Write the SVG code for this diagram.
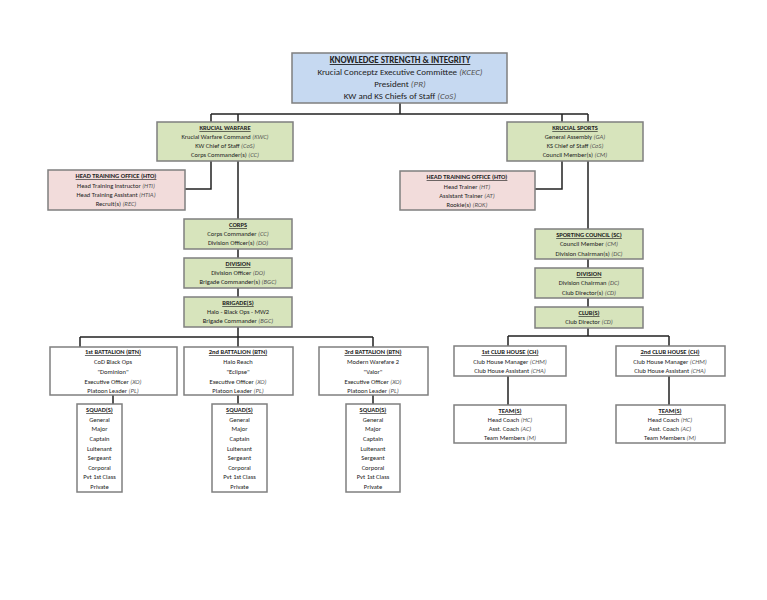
<svg xmlns="http://www.w3.org/2000/svg" width="767" height="600" viewBox="0 0 767 600">
<style>
.b{stroke:#7f7f7f;stroke-width:1.5}
.w{fill:#fff}.g{fill:#d7e4bc}.p{fill:#f2dcdb}.bl{fill:#c6d9f1}
text{font-family:Calibri,"Liberation Sans",Arial,sans-serif;font-size:6.5px;fill:#222;text-anchor:middle}
.h{font-weight:bold;text-decoration:underline}
.t{font-size:9px}
tspan.i{font-style:italic;fill:#555}
#conn path{fill:none;stroke:#222;stroke-width:1.5}
</style>
<rect width="767" height="600" fill="#fff"/>
<g id="conn">
<path d="M400 103V114M211 114H588M211 114V122M238 114V122M562 114V122M588 114V122"/>
<path d="M211 161V189H185M238 161V219M238 249V258M238 288V297M238 327V337M80 337H373M80 337V347M238 337V347M373 337V347"/>
<path d="M113 395V404M238 395V404M373 395V404"/>
<path d="M562 161V189H535M588 161V229M588 259V268M588 298V307M588 328V336M508 336H669M508 336V346M669 336V346M508 376V405M669 376V405"/>
</g>
<g id="top"><rect class="b bl" x="292" y="53" width="215" height="50"/>
<text class="t h" x="400" y="63">KNOWLEDGE STRENGTH &amp; INTEGRITY</text>
<text class="t" x="400" y="75">Krucial Conceptz Executive Committee <tspan class="i">(KCEC)</tspan></text>
<text class="t" x="400" y="87">President <tspan class="i">(PR)</tspan></text>
<text class="t" x="400" y="99">KW and KS Chiefs of Staff <tspan class="i">(CoS)</tspan></text></g>
<g id="kw"><rect class="b g" x="157" y="122" width="136" height="39"/>
<text class="h" x="225" y="130">KRUCIAL WARFARE</text>
<text x="225" y="139">Krucial Warfare Command <tspan class="i">(KWC)</tspan></text>
<text x="225" y="148">KW Chief of Staff <tspan class="i">(CoS)</tspan></text>
<text x="225" y="157">Corps Commander(s) <tspan class="i">(CC)</tspan></text></g>
<g id="ks"><rect class="b g" x="507" y="122" width="136" height="39"/>
<text class="h" x="575" y="130">KRUCIAL SPORTS</text>
<text x="575" y="139">General Assembly <tspan class="i">(GA)</tspan></text>
<text x="575" y="148">KS Chief of Staff <tspan class="i">(CoS)</tspan></text>
<text x="575" y="157">Council Member(s) <tspan class="i">(CM)</tspan></text></g>
<g id="hto1"><rect class="b p" x="48" y="170" width="137" height="40"/>
<text class="h" x="116" y="178">HEAD TRAINING OFFICE (HTO)</text>
<text x="116" y="188">Head Training Instructor <tspan class="i">(HTI)</tspan></text>
<text x="116" y="197">Head Training Assistant <tspan class="i">(HTIA)</tspan></text>
<text x="116" y="206">Recruit(s) <tspan class="i">(REC)</tspan></text></g>
<g id="hto2"><rect class="b p" x="400" y="171" width="135" height="39"/>
<text class="h" x="467" y="179">HEAD TRAINING OFFICE (HTO)</text>
<text x="467" y="189">Head Trainer <tspan class="i">(HT)</tspan></text>
<text x="467" y="198">Assistant Trainer <tspan class="i">(AT)</tspan></text>
<text x="467" y="207">Rookie(s) <tspan class="i">(ROK)</tspan></text></g>
<g id="corps"><rect class="b g" x="184" y="219" width="108" height="30"/>
<text class="h" x="238" y="227">CORPS</text>
<text x="238" y="236">Corps Commander <tspan class="i">(CC)</tspan></text>
<text x="238" y="245">Division Officer(s) <tspan class="i">(DO)</tspan></text></g>
<g id="div1"><rect class="b g" x="184" y="258" width="108" height="30"/>
<text class="h" x="238" y="266">DIVISION</text>
<text x="238" y="275">Division Officer <tspan class="i">(DO)</tspan></text>
<text x="238" y="284">Brigade Commander(s) <tspan class="i">(BGC)</tspan></text></g>
<g id="brig"><rect class="b g" x="184" y="297" width="108" height="30"/>
<text class="h" x="238" y="305">BRIGADE(S)</text>
<text x="238" y="314">Halo - Black Ops - MW2</text>
<text x="238" y="323">Brigade Commander <tspan class="i">(BGC)</tspan></text></g>
<g id="btn1"><rect class="b w" x="50" y="347" width="127" height="48"/>
<text class="h" x="113" y="354">1st BATTALION (BTN)</text>
<text x="113" y="364">CoD Black Ops</text><text x="113" y="374">"Dominion"</text>
<text x="113" y="384">Executive Officer <tspan class="i">(XO)</tspan></text>
<text x="113" y="393">Platoon Leader <tspan class="i">(PL)</tspan></text></g>
<g id="btn2"><rect class="b w" x="184" y="347" width="109" height="48"/>
<text class="h" x="238" y="354">2nd BATTALION (BTN)</text>
<text x="238" y="364">Halo Reach</text><text x="238" y="374">"Eclipse"</text>
<text x="238" y="384">Executive Officer <tspan class="i">(XO)</tspan></text>
<text x="238" y="393">Platoon Leader <tspan class="i">(PL)</tspan></text></g>
<g id="btn3"><rect class="b w" x="319" y="347" width="109" height="48"/>
<text class="h" x="373" y="354">3rd BATTALION (BTN)</text>
<text x="373" y="364">Modern Warefare 2</text><text x="373" y="374">"Valor"</text>
<text x="373" y="384">Executive Officer <tspan class="i">(XO)</tspan></text>
<text x="373" y="393">Platoon Leader <tspan class="i">(PL)</tspan></text></g>
<g id="sq1"><rect class="b w" x="77" y="404" width="45" height="88"/>
<text class="h" x="99.5" y="412">SQUAD(S)</text><text x="99.5" y="422">General</text><text x="99.5" y="431">Major</text><text x="99.5" y="441">Captain</text><text x="99.5" y="451">Luitenant</text><text x="99.5" y="460">Sergeant</text><text x="99.5" y="470">Corporal</text><text x="99.5" y="479">Pvt 1st Class</text><text x="99.5" y="489">Private</text></g>
<g id="sq2"><rect class="b w" x="212" y="404" width="55" height="88"/>
<text class="h" x="239.5" y="412">SQUAD(S)</text><text x="239.5" y="422">General</text><text x="239.5" y="431">Major</text><text x="239.5" y="441">Captain</text><text x="239.5" y="451">Luitenant</text><text x="239.5" y="460">Sergeant</text><text x="239.5" y="470">Corporal</text><text x="239.5" y="479">Pvt 1st Class</text><text x="239.5" y="489">Private</text></g>
<g id="sq3"><rect class="b w" x="346" y="404" width="54" height="88"/>
<text class="h" x="373" y="412">SQUAD(S)</text><text x="373" y="422">General</text><text x="373" y="431">Major</text><text x="373" y="441">Captain</text><text x="373" y="451">Luitenant</text><text x="373" y="460">Sergeant</text><text x="373" y="470">Corporal</text><text x="373" y="479">Pvt 1st Class</text><text x="373" y="489">Private</text></g>
<g id="sc"><rect class="b g" x="535" y="229" width="108" height="30"/>
<text class="h" x="589" y="237">SPORTING COUNCIL (SC)</text>
<text x="589" y="246">Council Member <tspan class="i">(CM)</tspan></text>
<text x="589" y="256">Division Chairman(s) <tspan class="i">(DC)</tspan></text></g>
<g id="div2"><rect class="b g" x="535" y="268" width="108" height="30"/>
<text class="h" x="589" y="276">DIVISION</text>
<text x="589" y="285">Division Chairman <tspan class="i">(DC)</tspan></text>
<text x="589" y="295">Club Director(s) <tspan class="i">(CD)</tspan></text></g>
<g id="club"><rect class="b g" x="535" y="307" width="108" height="21"/>
<text class="h" x="589" y="315">CLUB(S)</text>
<text x="589" y="324">Club Director <tspan class="i">(CD)</tspan></text></g>
<g id="ch1"><rect class="b w" x="454" y="346" width="112" height="30"/>
<text class="h" x="510" y="354">1st CLUB HOUSE (CH)</text>
<text x="510" y="364">Club House Manager <tspan class="i">(CHM)</tspan></text>
<text x="510" y="373">Club House Assistant <tspan class="i">(CHA)</tspan></text></g>
<g id="ch2"><rect class="b w" x="616" y="346" width="109" height="30"/>
<text class="h" x="670" y="354">2nd CLUB HOUSE (CH)</text>
<text x="670" y="364">Club House Manager <tspan class="i">(CHM)</tspan></text>
<text x="670" y="373">Club House Assistant <tspan class="i">(CHA)</tspan></text></g>
<g id="team1"><rect class="b w" x="454" y="405" width="112" height="38"/>
<text class="h" x="510" y="413">TEAM(S)</text>
<text x="510" y="422">Head Coach <tspan class="i">(HC)</tspan></text>
<text x="510" y="431">Asst. Coach <tspan class="i">(AC)</tspan></text>
<text x="510" y="440">Team Members <tspan class="i">(M)</tspan></text></g>
<g id="team2"><rect class="b w" x="616" y="405" width="109" height="38"/>
<text class="h" x="670" y="413">TEAM(S)</text>
<text x="670" y="422">Head Coach <tspan class="i">(HC)</tspan></text>
<text x="670" y="431">Asst. Coach <tspan class="i">(AC)</tspan></text>
<text x="670" y="440">Team Members <tspan class="i">(M)</tspan></text></g>
</svg>
